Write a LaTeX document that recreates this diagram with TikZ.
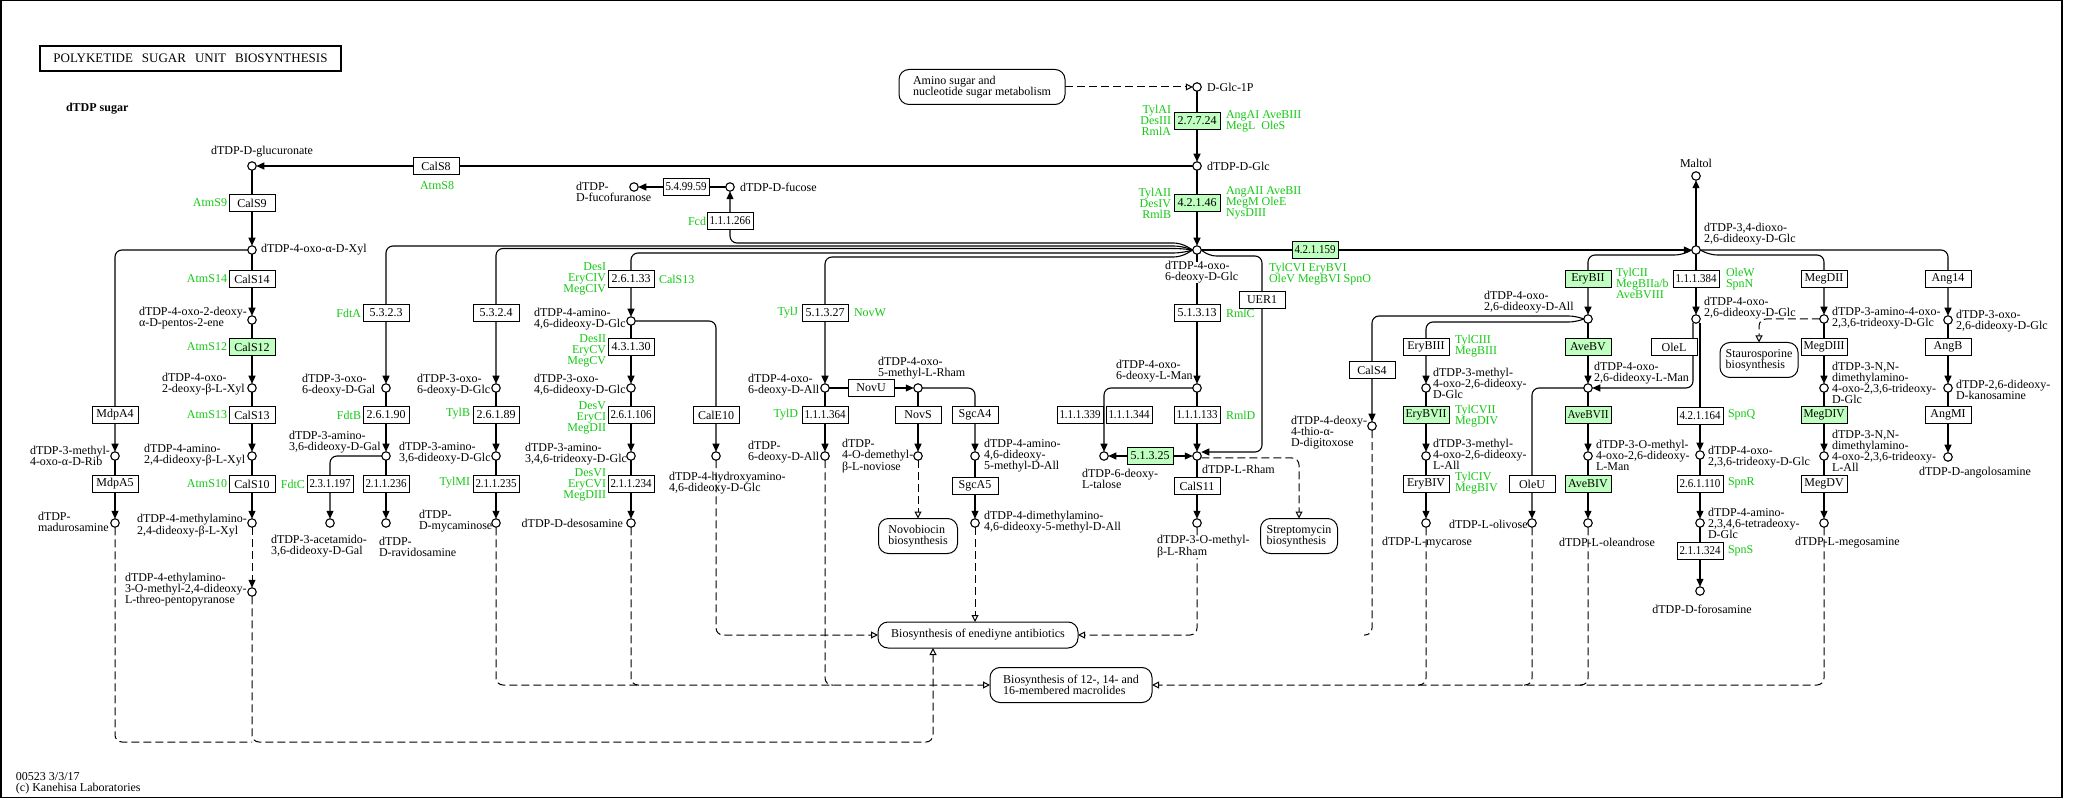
\documentclass[tikz,border=0pt]{standalone}
\usepackage{fontspec}
\setmainfont{Liberation Serif}
\usetikzlibrary{arrows.meta,calc}
\pgfdeclarelayer{bg}
\pgfsetlayers{bg,main}
\definecolor{kgreen}{RGB}{20,200,20}
\definecolor{kfill}{RGB}{191,255,191}
\newsavebox\ecbox
\newcommand\fitw[1]{\sbox\ecbox{#1}\ifdim\wd\ecbox>41pt\resizebox{41pt}{\height}{\usebox\ecbox}\else\usebox\ecbox\fi}
\newcommand\enzn[4][enz]{\node[#1] (#2) at #3 {\fitw{#4}};}
\begin{document}
\begin{tikzpicture}[x=1pt,y=-1pt,
 every node/.style={font=\fontsize{12}{11}\selectfont, inner sep=0pt, outer sep=0pt},
 cpd/.style={circle, draw, fill=white, line width=1.1pt, minimum size=8.5pt},
 enz/.style={rectangle, draw, fill=white, line width=1pt, minimum width=46pt, minimum height=17pt},
 genz/.style={enz, fill=kfill},
 lbl/.style={align=left, anchor=west},
 gl/.style={align=left, anchor=west, text=kgreen},
 glr/.style={align=right, anchor=east, text=kgreen},
 mapbox/.style={rectangle, rounded corners=10pt, draw, fill=white, line width=1pt, align=left},
 ln/.style={line width=1.1pt, rounded corners=7pt},
 rx/.style={ln, -{Triangle[length=8pt,width=7pt]}},
 dl/.style={line width=1pt, rounded corners=7pt, dash pattern=on 8pt off 4pt},
 mp/.style={dl, -{Triangle[open,length=7pt,width=7pt]}},
 dr/.style={dl, -{Triangle[length=8pt,width=7pt]}}]
\useasboundingbox (0,0) rectangle (2081,799);
\draw[line width=1.5pt] (0.75,0.75) rectangle (2062,797.5);

\node[draw, line width=2.2pt, minimum width=301pt, minimum height=25pt, font=\fontsize{13}{13}\selectfont] (title) at (190.5,58.5) {POLYKETIDE\hspace{9pt}SUGAR\hspace{9pt}UNIT\hspace{9pt}BIOSYNTHESIS};
\node[lbl, font=\fontsize{12}{11}\selectfont\bfseries] (head) at (66,109) {dTDP sugar};
\node[lbl] (foot) at (16,783) {00523 3/3/17\\(c) Kanehisa Laboratories};

% compounds
\node[cpd] (dglc1p) at (1197,87) {};
\node[cpd] (dglc) at (1197,166) {};
\node[cpd] (oxoglc) at (1197,250) {};
\node[cpd] (glcur) at (252,166) {};
\node[cpd] (fucf) at (634,187) {};
\node[cpd] (fuc) at (730,187) {};
\node[cpd] (xyl) at (252,250) {};
\node[cpd] (pent) at (252,320) {};
\node[cpd] (lxyl) at (252,388) {};
\node[cpd] (aminoxyl) at (252,456) {};
\node[cpd] (methylxyl) at (252,523) {};
\node[cpd] (ethyl) at (252,592) {};
\node[cpd] (rib) at (115,456) {};
\node[cpd] (madur) at (115,523) {};
\node[cpd] (oxogal) at (386,388) {};
\node[cpd] (aminogal) at (386,456) {};
\node[cpd] (acetgal) at (330,523) {};
\node[cpd] (ravid) at (386,523) {};
\node[cpd] (oxoglc3) at (496,388) {};
\node[cpd] (aminoglc3) at (496,456) {};
\node[cpd] (mycam) at (496,523) {};
\node[cpd] (amino46) at (631,321) {};
\node[cpd] (oxo46) at (631,388) {};
\node[cpd] (amino346) at (631,456) {};
\node[cpd] (desos) at (631,523) {};
\node[cpd] (hydroxy) at (716,456) {};
\node[cpd] (oxoall) at (825,388) {};
\node[cpd] (deoxyall) at (825,456) {};
\node[cpd] (methylrham) at (918,388) {};
\node[cpd] (noviose) at (918,456) {};
\node[cpd] (sgcamino) at (975,456) {};
\node[cpd] (dimethyl) at (975,523) {};
\node[cpd] (lman) at (1197,388) {};
\node[cpd] (talose) at (1104,456) {};
\node[cpd] (rham) at (1197,456) {};
\node[cpd] (omerham) at (1197,523) {};
\node[cpd] (dioxo) at (1696,250) {};
\node[cpd] (maltol) at (1696,176) {};
\node[cpd] (dall) at (1588,319) {};
\node[cpd] (digit) at (1372,426) {};
\node[cpd] (mglc) at (1426,388) {};
\node[cpd] (mall) at (1426,456) {};
\node[cpd] (mycar) at (1426,523) {};
\node[cpd] (dglc26) at (1696,319) {};
\node[cpd] (lman26) at (1588,388) {};
\node[cpd] (omelman) at (1588,456) {};
\node[cpd] (olivose) at (1532,523) {};
\node[cpd] (oleand) at (1588,523) {};
\node[cpd] (tri) at (1700,455) {};
\node[cpd] (tetra) at (1700,523) {};
\node[cpd] (foros) at (1700,591) {};
\node[cpd] (megA) at (1824,319) {};
\node[cpd] (megB) at (1824,388) {};
\node[cpd] (megC) at (1824,456) {};
\node[cpd] (megos) at (1824,523) {};
\node[cpd] (angA) at (1948,320) {};
\node[cpd] (angB) at (1948,388) {};
\node[cpd] (angC) at (1948,457) {};

% enzymes
\enzn[genz]{e27724}{(1197,121)}{2.7.7.24}
\enzn[genz]{e42146}{(1197,203)}{4.2.1.46}
\enzn{cals8}{(436,166)}{CalS8}
\enzn{cals9}{(252,203)}{CalS9}
\enzn{e549959}{(686,187)}{5.4.99.59}
\enzn{e111266}{(730,221)}{1.1.1.266}
\enzn[genz]{e421159}{(1315,250)}{4.2.1.159}
\enzn{cals14}{(252,279)}{CalS14}
\enzn[genz]{cals12}{(252,347)}{CalS12}
\enzn{cals13}{(252,415)}{CalS13}
\enzn{cals10}{(252,484)}{CalS10}
\enzn{mdpa4}{(115,415)}{MdpA4}
\enzn{mdpa5}{(115,484)}{MdpA5}
\enzn{e5323}{(386,313)}{5.3.2.3}
\enzn{e26190}{(386,415)}{2.6.1.90}
\enzn{e231197}{(330,484)}{2.3.1.197}
\enzn{e211236}{(386,484)}{2.1.1.236}
\enzn{e5324}{(496,313)}{5.3.2.4}
\enzn{e26189}{(496,415)}{2.6.1.89}
\enzn{e211235}{(496,484)}{2.1.1.235}
\enzn{e26133}{(631,279)}{2.6.1.33}
\enzn{e43130}{(631,347)}{4.3.1.30}
\enzn{e261106}{(631,415)}{2.6.1.106}
\enzn{e211234}{(631,484)}{2.1.1.234}
\enzn{cale10}{(716,415)}{CalE10}
\enzn{e51327}{(825,313)}{5.1.3.27}
\enzn{novu}{(871,388)}{NovU}
\enzn{e111364}{(825,415)}{1.1.1.364}
\enzn{novs}{(918,415)}{NovS}
\enzn{sgca4}{(975,415)}{SgcA4}
\enzn{sgca5}{(975,486)}{SgcA5}
\enzn{e51313}{(1197,313)}{5.1.3.13}
\enzn{e111339}{(1080,415)}{1.1.1.339}
\enzn{e111344}{(1129,415)}{1.1.1.344}
\enzn{e111133}{(1197,415)}{1.1.1.133}
\enzn[genz]{e51325}{(1150,456)}{5.1.3.25}
\enzn{cals11}{(1197,486)}{CalS11}
\enzn{uer1}{(1262,300)}{UER1}
\enzn{cals4}{(1372,370)}{CalS4}
\enzn[genz]{erybii}{(1588,279)}{EryBII}
\enzn{erybiii}{(1426,347)}{EryBIII}
\enzn[genz]{erybvii}{(1426,415)}{EryBVII}
\enzn{erybiv}{(1426,484)}{EryBIV}
\enzn[genz]{avebv}{(1588,347)}{AveBV}
\enzn[genz]{avebvii}{(1588,415)}{AveBVII}
\enzn[genz]{avebiv}{(1588,484)}{AveBIV}
\enzn{oleu}{(1532,484)}{OleU}
\enzn{e111384}{(1696,279)}{1.1.1.384}
\enzn{olel}{(1674,347)}{OleL}
\enzn{e421164}{(1700,416)}{4.2.1.164}
\enzn{e261110}{(1700,484)}{2.6.1.110}
\enzn{e211324}{(1700,551)}{2.1.1.324}
\enzn{megdii}{(1824,279)}{MegDII}
\enzn{megdiii}{(1824,347)}{MegDIII}
\enzn[genz]{megdiv}{(1824,415)}{MegDIV}
\enzn{megdv}{(1824,484)}{MegDV}
\enzn{ang14}{(1948,279)}{Ang14}
\enzn{angb}{(1948,347)}{AngB}
\enzn{angmi}{(1948,415)}{AngMI}

% maps
\node[mapbox, minimum width=166pt, minimum height=35pt] (mapamino) at (982,87) {Amino sugar and\\nucleotide sugar metabolism};
\node[mapbox, minimum width=79pt, minimum height=35pt] (mapnovo) at (918,536) {Novobiocin\\biosynthesis};
\node[mapbox, minimum width=77pt, minimum height=35pt] (mapstrep) at (1299,536) {Streptomycin\\biosynthesis};
\node[mapbox, minimum width=200pt, minimum height=26pt] (mapened) at (978,635) {Biosynthesis of enediyne antibiotics};
\node[mapbox, minimum width=162pt, minimum height=35pt] (mapmacro) at (1071,685) {Biosynthesis of 12-, 14- and\\16-membered macrolides};
\node[mapbox, minimum width=78pt, minimum height=35pt] (mapstauro) at (1759,360) {Staurosporine\\biosynthesis};

% compound labels
\node[lbl, anchor=center] (tglcur) at (262,152) {dTDP-D-glucuronate};
\node[lbl] (tdglc1p) at (1207,87) {D-Glc-1P};
\node[lbl] (tdglc) at (1207,166) {dTDP-D-Glc};
\node[lbl, fill=white] (toxoglc) at (1165,272.5) {dTDP-4-oxo-\\6-deoxy-D-Glc};
\node[lbl] (tfucf) at (576,192) {dTDP-\\D-fucofuranose};
\node[lbl] (tfuc) at (740,187) {dTDP-D-fucose};
\node[lbl] (txyl) at (261,250) {dTDP-4-oxo-α-D-Xyl};
\node[lbl] (tpent) at (139,318.5) {dTDP-4-oxo-2-deoxy-\\α-D-pentos-2-ene};
\node[lbl] (tlxyl) at (162,384) {dTDP-4-oxo-\\2-deoxy-β-L-Xyl};
\node[lbl] (taminoxyl) at (144,455) {dTDP-4-amino-\\2,4-dideoxy-β-L-Xyl};
\node[lbl] (tmethylxyl) at (137,525.5) {dTDP-4-methylamino-\\2,4-dideoxy-β-L-Xyl};
\node[lbl] (tethyl) at (125,590) {dTDP-4-ethylamino-\\3-O-methyl-2,4-dideoxy-\\L-threo-pentopyranose};
\node[lbl] (trib) at (30,455.5) {dTDP-3-methyl-\\4-oxo-α-D-Rib};
\node[lbl] (tmadur) at (38,521.5) {dTDP-\\madurosamine};
\node[lbl] (toxogal) at (302,385.5) {dTDP-3-oxo-\\6-deoxy-D-Gal};
\node[lbl] (taminogal) at (289,442.5) {dTDP-3-amino-\\3,6-dideoxy-D-Gal};
\node[lbl] (tacetgal) at (271,546.5) {dTDP-3-acetamido-\\3,6-dideoxy-D-Gal};
\node[lbl] (travid) at (379,546.5) {dTDP-\\D-ravidosamine};
\node[lbl] (toxoglc3) at (417,385.5) {dTDP-3-oxo-\\6-deoxy-D-Glc};
\node[lbl] (taminoglc3) at (399,453.5) {dTDP-3-amino-\\3,6-dideoxy-D-Glc};
\node[lbl] (tmycam) at (419,521.5) {dTDP-\\D-mycaminose};
\node[lbl] (tamino46) at (534,319) {dTDP-4-amino-\\4,6-dideoxy-D-Glc};
\node[lbl] (thydroxy) at (669,483.5) {dTDP-4-hydroxyamino-\\4,6-dideoxy-D-Glc};
\node[lbl] (toxo46) at (534,385) {dTDP-3-oxo-\\4,6-dideoxy-D-Glc};
\node[lbl] (tamino346) at (525,454) {dTDP-3-amino-\\3,4,6-trideoxy-D-Glc};
\node[lbl, anchor=east] (tdesos) at (623,523) {dTDP-D-desosamine};
\node[lbl] (toxoall) at (748,385.5) {dTDP-4-oxo-\\6-deoxy-D-All};
\node[lbl] (tdeoxyall) at (748,452.5) {dTDP-\\6-deoxy-D-All};
\node[lbl] (tmethylrham) at (878,368.5) {dTDP-4-oxo-\\5-methyl-L-Rham};
\node[lbl] (tnoviose) at (842,456.5) {dTDP-\\4-O-demethyl-\\β-L-noviose};
\node[lbl] (tsgcamino) at (984,455.5) {dTDP-4-amino-\\4,6-dideoxy-\\5-methyl-D-All};
\node[lbl] (tdimethyl) at (984,522) {dTDP-4-dimethylamino-\\4,6-dideoxy-5-methyl-D-All};
\node[lbl] (tlman) at (1116,371.5) {dTDP-4-oxo-\\6-deoxy-L-Man};
\node[lbl] (ttalose) at (1082,479) {dTDP-6-deoxy-\\L-talose};
\node[lbl] (trham) at (1202,469) {dTDP-L-Rham};
\node[lbl, fill=white] (tomerham) at (1157,547) {dTDP-3-O-methyl-\\β-L-Rham};
\node[lbl] (tdioxo) at (1704,234) {dTDP-3,4-dioxo-\\2,6-dideoxy-D-Glc};
\node[lbl, anchor=center] (tmaltol) at (1696,163) {Maltol};
\node[lbl] (tdall) at (1484,302.5) {dTDP-4-oxo-\\2,6-dideoxy-D-All};
\node[lbl] (tdigit) at (1291,432.5) {dTDP-4-deoxy-\\4-thio-α-\\D-digitoxose};
\node[lbl] (tmglc) at (1433,383) {dTDP-3-methyl-\\4-oxo-2,6-dideoxy-\\D-Glc};
\node[lbl] (tmall) at (1433,454.5) {dTDP-3-methyl-\\4-oxo-2,6-dideoxy-\\L-All};
\node[lbl] (tmycar) at (1382,543) {dTDP-L-mycarose};
\node[lbl] (tdglc26) at (1704,308) {dTDP-4-oxo-\\2,6-dideoxy-D-Glc};
\node[lbl] (tlman26) at (1594,373) {dTDP-4-oxo-\\2,6-dideoxy-L-Man};
\node[lbl] (tomelman) at (1596,455) {dTDP-3-O-methyl-\\4-oxo-2,6-dideoxy-\\L-Man};
\node[lbl] (tolivose) at (1449,524) {dTDP-L-olivose};
\node[lbl] (toleand) at (1559,542) {dTDP-L-oleandrose};
\node[lbl] (ttri) at (1708,457.5) {dTDP-4-oxo-\\2,3,6-trideoxy-D-Glc};
\node[lbl] (ttetra) at (1708,523.5) {dTDP-4-amino-\\2,3,4,6-tetradeoxy-\\D-Glc};
\node[lbl, anchor=center] (tforos) at (1702,609) {dTDP-D-forosamine};
\node[lbl] (tmegA) at (1832,318) {dTDP-3-amino-4-oxo-\\2,3,6-trideoxy-D-Glc};
\node[lbl] (tmegB) at (1832,382.5) {dTDP-3-N,N-\\dimethylamino-\\4-oxo-2,3,6-trideoxy-\\D-Glc};
\node[lbl] (tmegC) at (1832,451) {dTDP-3-N,N-\\dimethylamino-\\4-oxo-2,3,6-trideoxy-\\L-All};
\node[lbl] (tmegos) at (1795,543) {dTDP-L-megosamine};
\node[lbl] (tangA) at (1956,321.5) {dTDP-3-oxo-\\2,6-dideoxy-D-Glc};
\node[lbl] (tangB) at (1956,389.5) {dTDP-2,6-dideoxy-\\D-kanosamine};
\node[lbl] (tangC) at (1919,473) {dTDP-D-angolosamine};

% gene labels
\node[glr] (g27724L) at (1171,120.5) {TylAI\\DesIII\\RmlA};
\node[gl] (g27724R) at (1226,121) {AngAI AveBIII\\MegL\ \ OleS};
\node[glr] (g42146L) at (1171,203) {TylAII\\DesIV\\RmlB};
\node[gl] (g42146R) at (1226,203) {AngAII AveBII\\MegM OleE\\NysDIII};
\node[gl, anchor=center] (gcals8) at (437,186) {AtmS8};
\node[glr] (gcals9) at (227,203) {AtmS9};
\node[glr] (gfcd) at (706,221) {Fcd};
\node[gl] (g421159) at (1269,274.5) {TylCVI EryBVI\\OleV MegBVI SpnO};
\node[glr] (gcals14) at (227,279) {AtmS14};
\node[glr] (gcals12) at (227,347) {AtmS12};
\node[glr] (gcals13) at (227,415) {AtmS13};
\node[glr] (gcals10) at (227,484) {AtmS10};
\node[glr] (gfdta) at (361,313) {FdtA};
\node[glr] (gfdtb) at (361,415) {FdtB};
\node[glr] (gfdtc) at (305,484) {FdtC};
\node[glr] (gtylb) at (470,414) {TylB};
\node[glr] (gtylmi) at (470,483) {TylMI};
\node[glr] (g26133L) at (606,278.5) {DesI\\EryCIV\\MegCIV};
\node[gl] (g26133R) at (659,279) {CalS13};
\node[glr] (g43130L) at (606,350.5) {DesII\\EryCV\\MegCV};
\node[glr] (g261106L) at (606,417.5) {DesV\\EryCI\\MegDII};
\node[glr] (g211234L) at (606,484.5) {DesVI\\EryCVI\\MegDIII};
\node[glr] (gtylj) at (798,313) {TylJ};
\node[gl] (gnovw) at (854,313) {NovW};
\node[glr] (gtyld) at (798,415) {TylD};
\node[gl] (grmlc) at (1226,313) {RmlC};
\node[gl] (grmld) at (1226,415) {RmlD};
\node[gl] (gerybii) at (1616,283) {TylCII\\MegBIIa/b\\AveBVIII};
\node[gl] (gerybiii) at (1455,346.5) {TylCIII\\MegBIII};
\node[gl] (gerybvii) at (1455,416.5) {TylCVII\\MegDIV};
\node[gl] (gerybiv) at (1455,483.5) {TylCIV\\MegBIV};
\node[gl] (g111384) at (1726,279.5) {OleW\\SpnN};
\node[gl] (g421164) at (1728,415) {SpnQ};
\node[gl] (g261110) at (1728,483) {SpnR};
\node[gl] (g211324) at (1728,551) {SpnS};

\begin{pgfonlayer}{bg}
\draw[mp] (mapamino) -- (dglc1p);
\draw[rx] (dglc1p) -- (dglc);
\draw[rx] (dglc) -- (oxoglc);
\draw[rx] (dglc) -- (glcur);
\draw[rx] (glcur) -- (xyl);
\draw[rx] (fuc) -- (fucf);
\draw[rx] (oxoglc.west) -- ++(-12,-7) -| (fuc);
\draw[rx] (oxoglc.west) -- ++(-12,-4) -| (oxogal);
\draw[rx] (oxoglc.west) -- ++(-12,-1.5) -| (oxoglc3);
\draw[rx] (oxoglc.west) -- ++(-12,3) -| (amino46);
\draw[rx] (oxoglc.west) -- ++(-12,7) -| (oxoall);
\draw[rx] (xyl) -| (rib);
\draw[rx] (xyl) -- (pent);
\draw[rx] (pent) -- (lxyl);
\draw[rx] (lxyl) -- (aminoxyl);
\draw[rx] (aminoxyl) -- (methylxyl);
\draw[dr] (methylxyl) -- (ethyl);
\draw[rx] (rib) -- (madur);
\draw[rx] (oxogal) -- (aminogal);
\draw[rx] (aminogal) -- (ravid);
\draw[rx] (aminogal) -| (acetgal);
\draw[rx] (oxoglc3) -- (aminoglc3);
\draw[rx] (aminoglc3) -- (mycam);
\draw[rx] (amino46) -- (oxo46);
\draw[rx] (oxo46) -- (amino346);
\draw[rx] (amino346) -- (desos);
\draw[rx] (amino46) -| (hydroxy);
\draw[rx] (oxoall) -- (deoxyall);
\draw[rx] (oxoall) -- (methylrham);
\draw[rx] (methylrham) -- (noviose);
\draw[rx] (methylrham) -| (sgcamino);
\draw[rx] (sgcamino) -- (dimethyl);
\draw[rx] (oxoglc) -- (lman);
\draw[rx] (lman) -- (rham);
\draw[rx] (lman) -| (talose);
\draw[rx] (e51325) -- (talose);
\draw[rx] (e51325) -- (rham);
\draw[rx] (rham) -- (omerham);
\draw[rx] (oxoglc.east) -- ++(8,6) -| (uer1) |- ([yshift=4pt]rham.east);
\draw[rx] (oxoglc) -- (dioxo);
\draw[rx] (dioxo) -- (maltol);
\draw[rx] (dioxo.west) -- ++(-10,5) -| (dall);
\draw[rx] (dioxo) -- (dglc26);
\draw[rx] (dioxo.east) -- ++(10,5) -| (megA);
\draw[rx] (dioxo) -| (angA);
\draw[rx] (dall.west) -- ++(-8,-3) -| (digit);
\draw[rx] (dall.west) -- ++(-8,3) -| (mglc);
\draw[rx] (mglc) -- (mall);
\draw[rx] (mall) -- (mycar);
\draw[rx] (dall) -- (lman26);
\draw[rx] (lman26) -- (omelman);
\draw[rx] (omelman) -- (oleand);
\draw[rx] (lman26) -| (olivose);
\draw[rx] ([xshift=-3pt]dglc26.south) |- (lman26);
\draw[rx] (dglc26.south -| tri) -- (tri);
\draw[rx] (tri) -- (tetra);
\draw[rx] (tetra) -- (foros);
\draw[rx] (megA) -- (megB);
\draw[rx] (megB) -- (megC);
\draw[rx] (megC) -- (megos);
\draw[rx] (angA) -- (angB);
\draw[rx] (angB) -- (angC);
% map links
\coordinate (jA) at (933,742);
\draw[mp] (ethyl) |- (jA) -- (jA |- mapened.south);
\draw[dl] (madur) |- (ethyl |- jA);
\draw[mp] (hydroxy) |- (mapened.west);
\draw[mp] (dimethyl) -- (dimethyl |- mapened.north);
\draw[mp] (omerham) |- (mapened.east);
\draw[dl] (digit) |- ([xshift=-8pt]digit |- mapened.east);
\draw[mp] (noviose) -- (mapnovo);
\draw[mp] ([yshift=-2pt]rham.east) -| (mapstrep);
\draw[mp] (megA) -| (mapstauro);
\draw[mp] (mycam) |- (mapmacro.west);
\draw[dl] (desos) |- ([xshift=8pt]desos |- mapmacro.west);
\draw[dl] (deoxyall) |- ([xshift=8pt]deoxyall |- mapmacro.west);
\draw[mp] (megos) |- (mapmacro.east);
\draw[dl] (mycar) |- ([xshift=-8pt]mycar |- mapmacro.east);
\draw[dl] (olivose) |- ([xshift=-8pt]olivose |- mapmacro.east);
\draw[dl] (oleand) |- ([xshift=-8pt]oleand |- mapmacro.east);
\end{pgfonlayer}
\end{tikzpicture}
\end{document}
